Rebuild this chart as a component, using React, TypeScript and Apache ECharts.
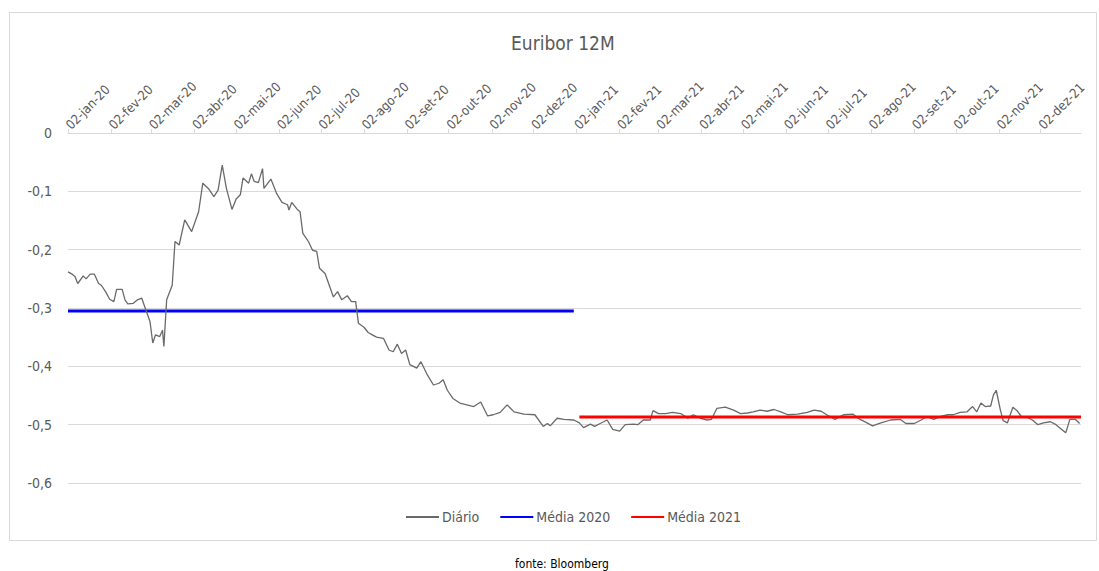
import React, { useEffect, useRef } from "react";
import * as echarts from "echarts";

const dates = [
  "2020-01-02","2020-01-05","2020-01-07","2020-01-09","2020-01-13","2020-01-15","2020-01-18","2020-01-21","2020-01-24","2020-01-26",
  "2020-01-29","2020-02-01","2020-02-04","2020-02-06","2020-02-10","2020-02-12","2020-02-14","2020-02-18","2020-02-21","2020-02-24",
  "2020-02-27","2020-03-01","2020-03-03","2020-03-05","2020-03-08","2020-03-10","2020-03-11","2020-03-13","2020-03-17","2020-03-19",
  "2020-03-22","2020-03-26","2020-03-31","2020-04-05","2020-04-08","2020-04-12","2020-04-16","2020-04-19","2020-04-22","2020-04-25",
  "2020-04-29","2020-05-02","2020-05-05","2020-05-07","2020-05-11","2020-05-13","2020-05-15","2020-05-18","2020-05-21","2020-05-22",
  "2020-05-27","2020-05-31","2020-06-04","2020-06-08","2020-06-09","2020-06-11","2020-06-15","2020-06-17","2020-06-19","2020-06-23",
  "2020-06-26","2020-06-29","2020-07-01","2020-07-05","2020-07-08","2020-07-11","2020-07-14","2020-07-17","2020-07-21","2020-07-24",
  "2020-07-27","2020-07-29","2020-08-02","2020-08-05","2020-08-08","2020-08-11","2020-08-16","2020-08-20","2020-08-23","2020-08-26",
  "2020-08-29","2020-09-01","2020-09-04","2020-09-09","2020-09-12","2020-09-16","2020-09-21","2020-09-25","2020-09-28","2020-10-01",
  "2020-10-05","2020-10-10","2020-10-15","2020-10-20","2020-10-25","2020-10-30","2020-11-03","2020-11-08","2020-11-13","2020-11-18",
  "2020-11-25","2020-12-03","2020-12-09","2020-12-12","2020-12-14","2020-12-19","2020-12-24","2020-12-31","2021-01-04","2021-01-07",
  "2021-01-12","2021-01-15","2021-01-19","2021-01-24","2021-01-28","2021-02-02","2021-02-06","2021-02-12","2021-02-15","2021-02-19",
  "2021-02-24","2021-02-26","2021-03-02","2021-03-07","2021-03-12","2021-03-18","2021-03-23","2021-03-27","2021-04-01","2021-04-06",
  "2021-04-09","2021-04-13","2021-04-19","2021-04-25","2021-04-30","2021-05-05","2021-05-09","2021-05-14","2021-05-19","2021-05-24",
  "2021-05-29","2021-06-03","2021-06-10","2021-06-17","2021-06-22","2021-06-27","2021-07-01","2021-07-07","2021-07-13","2021-07-20",
  "2021-07-25","2021-07-30","2021-08-03","2021-08-09","2021-08-16","2021-08-23","2021-08-27","2021-09-02","2021-09-07","2021-09-11",
  "2021-09-16","2021-09-21","2021-09-26","2021-09-30","2021-10-05","2021-10-10","2021-10-14","2021-10-17","2021-10-20","2021-10-23",
  "2021-10-27","2021-10-29","2021-10-31","2021-11-03","2021-11-05","2021-11-08","2021-11-12","2021-11-15","2021-11-18","2021-11-22",
  "2021-11-26","2021-11-30","2021-12-04","2021-12-09","2021-12-13","2021-12-16","2021-12-20","2021-12-23","2021-12-27","2021-12-30",
];

const diario = [
  -0.238,-0.242,-0.246,-0.258,-0.245,-0.250,-0.242,-0.242,-0.258,-0.261,
  -0.272,-0.285,-0.289,-0.268,-0.268,-0.286,-0.293,-0.292,-0.286,-0.283,
  -0.303,-0.323,-0.360,-0.346,-0.349,-0.338,-0.366,-0.286,-0.261,-0.186,
  -0.192,-0.149,-0.169,-0.135,-0.086,-0.095,-0.109,-0.098,-0.055,-0.095,
  -0.131,-0.113,-0.106,-0.077,-0.086,-0.070,-0.083,-0.085,-0.061,-0.095,
  -0.079,-0.103,-0.119,-0.123,-0.132,-0.119,-0.131,-0.135,-0.172,-0.186,
  -0.201,-0.203,-0.232,-0.241,-0.261,-0.281,-0.272,-0.286,-0.279,-0.289,
  -0.289,-0.326,-0.333,-0.342,-0.346,-0.350,-0.352,-0.372,-0.375,-0.362,
  -0.378,-0.372,-0.397,-0.403,-0.392,-0.412,-0.432,-0.429,-0.423,-0.441,
  -0.455,-0.463,-0.466,-0.469,-0.461,-0.485,-0.483,-0.479,-0.466,-0.478,
  -0.482,-0.483,-0.503,-0.498,-0.502,-0.489,-0.491,-0.492,-0.497,-0.505,
  -0.499,-0.503,-0.498,-0.492,-0.508,-0.511,-0.500,-0.499,-0.500,-0.492,
  -0.492,-0.476,-0.481,-0.481,-0.479,-0.481,-0.489,-0.483,-0.489,-0.492,
  -0.491,-0.472,-0.470,-0.475,-0.481,-0.480,-0.478,-0.475,-0.477,-0.474,
  -0.478,-0.483,-0.482,-0.479,-0.475,-0.477,-0.483,-0.491,-0.483,-0.482,
  -0.491,-0.497,-0.502,-0.497,-0.492,-0.491,-0.498,-0.498,-0.492,-0.486,
  -0.491,-0.486,-0.483,-0.483,-0.479,-0.478,-0.469,-0.478,-0.463,-0.469,
  -0.468,-0.449,-0.441,-0.475,-0.493,-0.497,-0.470,-0.476,-0.486,-0.487,
  -0.492,-0.500,-0.497,-0.495,-0.500,-0.506,-0.514,-0.491,-0.491,-0.498,
];

const media2020Dates = ["2020-01-02", "2020-12-31"];
const media2020 = [-0.305, -0.305];
const media2021Dates = ["2021-01-04", "2021-12-31"];
const media2021 = [-0.487, -0.487];

const tickDates = [
  "2020-01-02","2020-02-02","2020-03-02","2020-04-02","2020-05-02","2020-06-02",
  "2020-07-02","2020-08-02","2020-09-02","2020-10-02","2020-11-02","2020-12-02",
  "2021-01-02","2021-02-02","2021-03-02","2021-04-02","2021-05-02","2021-06-02",
  "2021-07-02","2021-08-02","2021-09-02","2021-10-02","2021-11-02","2021-12-02",
];
const monthNames = ["jan","fev","mar","abr","mai","jun","jul","ago","set","out","nov","dez"];
const axisStart = "2020-01-02";
const axisEnd = "2021-12-31";

const FONT = "'Liberation Sans Narrow', 'Arial Narrow', 'DejaVu Sans Condensed', sans-serif";
const TXT = "#595959";

function toTs(s: string): number {
  const [y, m, d] = s.split("-").map(Number);
  return new Date(y, m - 1, d).getTime();
}

function fmtDate(v: number): string {
  const d = new Date(v);
  const dd = String(d.getDate()).padStart(2, "0");
  const yy = String(d.getFullYear()).slice(2);
  return `${dd}-${monthNames[d.getMonth()]}-${yy}`;
}

export default function App() {
  const ref = useRef<HTMLDivElement>(null);
  useEffect(() => {
    if (!ref.current) return;
    const chart = echarts.init(ref.current, undefined, { renderer: "svg" });
    const ticks = tickDates.map(toTs);
    chart.setOption({
      animation: false,
      backgroundColor: "#ffffff",
      title: {
        text: "Euribor 12M",
        left: 506,
        top: 28,
        textStyle: { fontFamily: FONT, fontSize: 19, fontWeight: "normal", color: TXT },
      },
      graphic: [
        {
          type: "rect",
          shape: { x: 9.5, y: 12.5, width: 1087, height: 528 },
          style: { fill: "none", stroke: "#d9d9d9", lineWidth: 1 },
          silent: true,
        },
        {
          type: "text",
          left: 515,
          top: 558,
          style: { text: "fonte: Bloomberg", fontFamily: FONT, fontSize: 12, fill: "#000000" },
        },
      ],
      legend: {
        top: 505,
        left: 400,
        itemWidth: 33,
        itemHeight: 14,
        itemGap: 20,
        itemStyle: { opacity: 0 },
        textStyle: { fontFamily: FONT, fontSize: 14, color: TXT, padding: [0, 0, 0, -2] },
        data: ["Diário", "Média 2020", "Média 2021"],
      },
      grid: { left: 68, right: 18, top: 133, bottom: 88, containLabel: false },
      xAxis: {
        type: "value",
        position: "top",
        min: toTs(axisStart),
        max: toTs(axisEnd),
        axisLine: { show: true, lineStyle: { color: "#d9d9d9" } },
        axisTick: { show: true, length: 4, lineStyle: { color: "#d9d9d9" }, customValues: ticks },
        splitLine: { show: false },
        axisLabel: {
          customValues: ticks,
          formatter: (v: number) => fmtDate(v),
          rotate: 45,
          margin: 6,
          hideOverlap: false,
          fontFamily: FONT,
          fontSize: 13,
          color: TXT,
        },
      },
      yAxis: {
        type: "value",
        min: -0.6,
        max: 0,
        interval: 0.1,
        axisLine: { show: false },
        axisTick: { show: false },
        splitLine: { show: true, lineStyle: { color: "#d9d9d9", width: 1 } },
        axisLabel: {
          margin: 16,
          fontFamily: FONT,
          fontSize: 14,
          color: TXT,
          formatter: (v: number) => (Math.abs(v) < 1e-9 ? "0" : v.toFixed(1).replace(".", ",")),
        },
      },
      series: [
        {
          name: "Diário",
          type: "line",
          symbol: "none",
          data: dates.map((d, i) => [toTs(d), diario[i]]),
          lineStyle: { color: "#6a6a6a", width: 1.3 },
          itemStyle: { color: "#6a6a6a" },
          z: 3,
        },
        {
          name: "Média 2020",
          type: "line",
          symbol: "none",
          data: media2020Dates.map((d, i) => [toTs(d), media2020[i]]),
          lineStyle: { color: "#0000ff", width: 3 },
          itemStyle: { color: "#0000ff" },
          z: 2,
        },
        {
          name: "Média 2021",
          type: "line",
          symbol: "none",
          data: media2021Dates.map((d, i) => [toTs(d), media2021[i]]),
          lineStyle: { color: "#ff0000", width: 3 },
          itemStyle: { color: "#ff0000" },
          z: 4,
        },
      ],
    });
    return () => chart.dispose();
  }, []);
  return (
    <div
      ref={ref}
      style={{ position: "fixed", left: 0, top: 0, width: 1099, height: 571, background: "#fff" }}
    />
  );
}
